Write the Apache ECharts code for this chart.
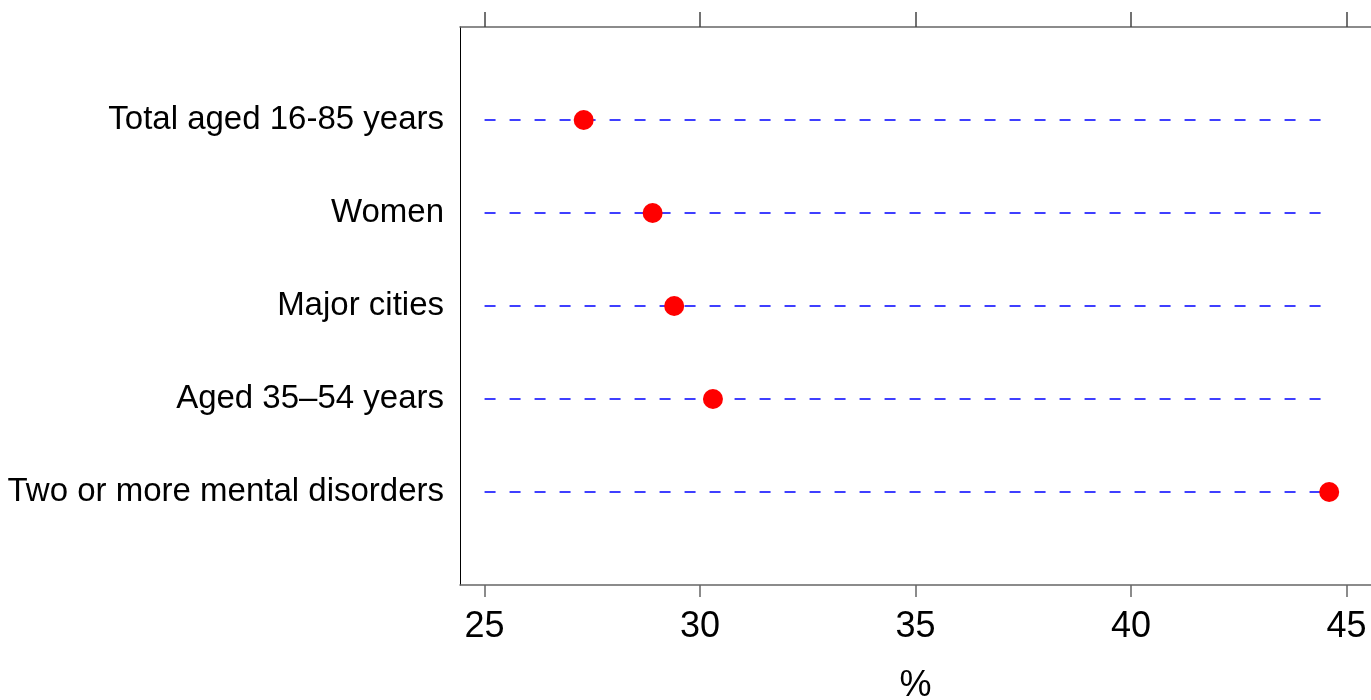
<!DOCTYPE html>
<html><head><meta charset="utf-8">
<script src="https://cdn.jsdelivr.net/npm/echarts@6/dist/echarts.min.js"></script>
<style>html,body{margin:0;padding:0;background:#fff}#c{width:1371px;height:700px}</style>
</head><body><div id="c"></div>
<script>
const categories = ["Total aged 16-85 years", "Women", "Major cities", "Aged 35–54 years", "Two or more mental disorders"];
const values = [27.3, 28.9, 29.4, 30.3, 44.6];
const xTicks = [25, 30, 35, 40, 45];
const lineStart = 25;
const lineEnd = 44.7;

const font = '"Liberation Sans Narrow", "Liberation Sans", Arial, sans-serif';
const chart = echarts.init(document.getElementById('c'));
const rowPos = categories.map((c, i) => i + 1);
const guideSeries = rowPos.map(p => ({
  type: 'line', data: [[lineStart, p], [lineEnd, p]], symbol: 'none', silent: true,
  lineStyle: { color: '#0000ff', width: 1.3, type: [11, 14] }, z: 1
}));
chart.setOption({
  animation: false,
  grid: { left: 460, right: 0, top: 27, bottom: 115, containLabel: false, outerBoundsMode: 'none' },
  xAxis: [{
    type: 'value', position: 'bottom', min: 24.43, max: 45.57,
    splitLine: { show: false },
    axisLine: { show: true, onZero: false, lineStyle: { color: '#666', width: 1.5 } },
    axisTick: { show: true, inside: false, length: 12, customValues: xTicks, lineStyle: { color: '#666', width: 1.5 } },
    axisLabel: { show: true, customValues: xTicks, color: '#000', fontSize: 36, fontFamily: font, margin: 24 },
    name: '%', nameLocation: 'middle', nameGap: 83,
    nameTextStyle: { color: '#000', fontSize: 36, fontFamily: font }
  }, {
    type: 'value', position: 'top', min: 24.43, max: 45.57,
    splitLine: { show: false },
    axisLine: { show: true, onZero: false, lineStyle: { color: '#666', width: 1.5 } },
    axisTick: { show: true, inside: false, length: 15, customValues: xTicks, lineStyle: { color: '#444', width: 1.5 } },
    axisLabel: { show: false }
  }],
  yAxis: {
    type: 'value', min: 0, max: 6, inverse: true,
    splitLine: { show: false },
    axisLine: { show: true, onZero: false, lineStyle: { color: '#000', width: 1 } },
    axisTick: { show: false },
    axisLabel: {
      customValues: rowPos, color: '#000', fontSize: 33, fontFamily: font, margin: 16,
      formatter: v => categories[Math.round(v) - 1] || ''
    }
  },
  series: guideSeries.concat([{
    type: 'scatter', symbol: 'circle', symbolSize: 20,
    itemStyle: { color: '#ff0000', opacity: 1 },
    data: values.map((v, i) => [v, i + 1]), z: 5
  }])
});
</script></body></html>
